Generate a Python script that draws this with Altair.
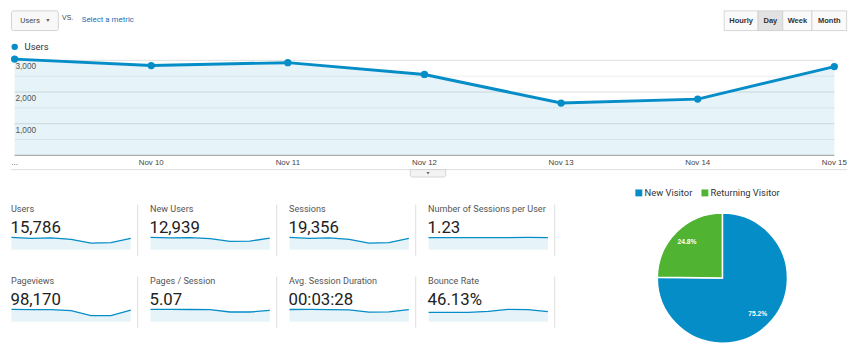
import altair as alt
import pandas as pd

# ---------------- data ----------------
dates = ["...", "Nov 10", "Nov 11", "Nov 12", "Nov 13", "Nov 14", "Nov 15"]
users_daily = [3040, 2835, 2928, 2555, 1651, 1776, 2804]
grid_major = [1000, 2000, 3000]
grid_minor = [500, 1500, 2500]
y_tick_labels = ["1,000", "2,000", "3,000"]

metric_name = "Users"
buttons = ["Hourly", "Day", "Week", "Month"]

card_titles = ["Users", "New Users", "Sessions", "Number of Sessions per User",
               "Pageviews", "Pages / Session", "Avg. Session Duration", "Bounce Rate"]
card_values = ["15,786", "12,939", "19,356", "1.23",
               "98,170", "5.07", "00:03:28", "46.13%"]
spark_users = [3040, 2835, 2928, 2555, 1651, 1776, 2804]
spark_new_users = [2097, 2013, 2055, 1887, 1426, 1468, 1993]
spark_sessions = [3344, 3119, 3221, 2811, 1816, 1954, 3091]
spark_sess_per_user = [1.23, 1.22, 1.23, 1.22, 1.23, 1.24, 1.23]
spark_pageviews = [16850, 16750, 16650, 15150, 8350, 8420, 16000]
spark_pages_session = [5.5, 5.5, 5.48, 5.4, 4.35, 4.35, 5.06]
spark_duration = [220, 221, 219, 214, 174, 176, 219]
spark_bounce = [41.8, 42.3, 42.3, 46.2, 55.0, 54.6, 44.8]
spark_series = [spark_users, spark_new_users, spark_sessions, spark_sess_per_user,
                spark_pageviews, spark_pages_session, spark_duration, spark_bounce]

visitor_types = ["New Visitor", "Returning Visitor"]
visitor_share = [75.2, 24.8]
visitor_labels = ["75.2%", "24.8%"]

BLUE = "#058dc7"
GREEN = "#50b432"
SANS = "Liberation Sans"
ROBOTO = "Roboto"

one = pd.DataFrame({"k": [0]})

# ---------------- top chart (header + main line) ----------------
W_TOP, H_TOP = 848, 172
main_df = pd.DataFrame({"date": dates, "users": users_daily})
grid_df = pd.DataFrame({"v": grid_major, "label": y_tick_labels})
minor_df = pd.DataFrame({"v": grid_minor})
zero_df = pd.DataFrame({"v": [0]})

X0, X1 = 3.7, 835
xs = alt.X("date:N", sort=dates, axis=None,
           scale=alt.Scale(type="point", range=[X0, X1], padding=0))
ys = alt.Scale(domain=[0, 3000], range=[147, 50.7], nice=False, zero=True)

minor = alt.Chart(minor_df).mark_rule(color="#eeeeee").encode(
    y=alt.Y("v:Q", scale=ys, axis=None), x=alt.value(X0), x2=alt.value(X1))
major = alt.Chart(grid_df).mark_rule(color="#e0e0e0").encode(
    y=alt.Y("v:Q", scale=ys, axis=None), x=alt.value(X0), x2=alt.value(X1))
area = alt.Chart(main_df).mark_area(color=BLUE, opacity=0.1).encode(
    x=xs, y=alt.Y("users:Q", scale=ys, axis=None))
ylab = alt.Chart(grid_df).mark_text(align="left", baseline="middle", dy=6,
                                    fontSize=8.4, font=SANS, color="#555").encode(
    y=alt.Y("v:Q", scale=ys, axis=None), x=alt.value(4.5), text="label:N")
base = alt.Chart(zero_df).mark_rule(color="#999999").encode(
    y=alt.Y("v:Q", scale=ys, axis=None), x=alt.value(X0), x2=alt.value(X1))
line = alt.Chart(main_df).mark_line(color=BLUE, strokeWidth=3).encode(
    x=xs, y=alt.Y("users:Q", scale=ys, axis=None))
pts = alt.Chart(main_df).mark_point(filled=True, size=55, color=BLUE, opacity=1).encode(
    x=xs, y=alt.Y("users:Q", scale=ys, axis=None))
xlab = alt.Chart(main_df).mark_text(fontSize=8, font=SANS, color="#444",
                                    baseline="middle").encode(
    x=xs, y=alt.value(155), text="date:N")
sep = alt.Chart(one).mark_rule(color="#dddddd").encode(
    x=alt.value(0), x2=alt.value(848), y=alt.value(161.5))
tab = alt.Chart(one).mark_rect(fill="#f3f3f3", stroke="#cccccc", strokeWidth=0.8,
                               cornerRadiusBottomLeft=2, cornerRadiusBottomRight=2).encode(
    x=alt.value(405), x2=alt.value(441), y=alt.value(161.5), y2=alt.value(169))
tab_caret = alt.Chart(one).mark_point(shape="triangle-down", filled=True, size=10,
                                      color="#666", opacity=1).encode(
    x=alt.value(423), y=alt.value(165.2))

# header: dropdown
dd_box = alt.Chart(one).mark_rect(fill="#f8f8f8", stroke="#c8c8c8", strokeWidth=0.8,
                                  cornerRadius=2).encode(
    x=alt.value(0.5), x2=alt.value(48), y=alt.value(0.5), y2=alt.value(20.5))
dd_text = alt.Chart(one).mark_text(align="left", baseline="middle", fontSize=7.8,
                                   font=ROBOTO, color="#444").encode(
    x=alt.value(9.5), y=alt.value(10.5), text=alt.value(metric_name))
dd_caret = alt.Chart(one).mark_point(shape="triangle-down", filled=True, size=12,
                                     color="#666", opacity=1).encode(
    x=alt.value(37.5), y=alt.value(10.2))
vs_text = alt.Chart(one).mark_text(align="left", baseline="middle", fontSize=7,
                                   font=SANS, color="#444").encode(
    x=alt.value(51.8), y=alt.value(8), text=alt.value("VS."))
sel_text = alt.Chart(one).mark_text(align="left", baseline="middle", fontSize=8,
                                    font=ROBOTO, color="#2a6db5").encode(
    x=alt.value(71.8), y=alt.value(10.2), text=alt.value("Select a metric"))

# header: buttons
btn_edges = [723.3, 757.7, 782.7, 812.3, 847.5]
btn_layers = []
for i, b in enumerate(buttons):
    fill = "#e2e2e2" if b == "Day" else "#fafafa"
    btn_layers.append(alt.Chart(one).mark_rect(fill=fill, stroke="#cccccc",
                                               strokeWidth=0.8).encode(
        x=alt.value(btn_edges[i]), x2=alt.value(btn_edges[i + 1]),
        y=alt.value(0.5), y2=alt.value(20.5)))
for i, b in enumerate(buttons):
    btn_layers.append(alt.Chart(one).mark_text(fontSize=7.6, font=SANS, fontWeight="bold",
                                               color="#333", baseline="middle").encode(
        x=alt.value((btn_edges[i] + btn_edges[i + 1]) / 2), y=alt.value(10.4),
        text=alt.value(b)))

# legend "Users"
lg_dot = alt.Chart(one).mark_point(filled=True, size=42, color=BLUE, opacity=1).encode(
    x=alt.value(3.8), y=alt.value(37))
lg_text = alt.Chart(one).mark_text(align="left", baseline="middle", fontSize=9.6,
                                   font=ROBOTO, color="#333").encode(
    x=alt.value(13.8), y=alt.value(37.3), text=alt.value(metric_name))

top = alt.layer(minor, major, area, ylab, base, line, pts, xlab, sep, tab, tab_caret,
                dd_box, dd_text, dd_caret, vs_text, sel_text, *btn_layers,
                lg_dot, lg_text).properties(width=W_TOP, height=H_TOP)

# ---------------- cards ----------------
CARD_W, CARD_H = 132, 72


def card(idx):
    vals = spark_series[idx]
    df = pd.DataFrame({"i": list(range(len(vals))), "v": vals})
    sx = alt.X("i:Q", axis=None, scale=alt.Scale(domain=[0, 6], range=[0.5, 121.5], nice=False))
    sy = alt.Y("v:Q", axis=None, scale=alt.Scale(domain=[0, max(vals)], range=[65.7, 53.3],
                                                  nice=False, zero=True))
    a = alt.Chart(df).mark_area(color=BLUE, opacity=0.1).encode(x=sx, y=sy)
    l = alt.Chart(df).mark_line(color=BLUE, strokeWidth=1.3).encode(x=sx, y=sy)
    t = alt.Chart(one).mark_text(align="left", baseline="middle", fontSize=9.2,
                                 font=ROBOTO, color="#555").encode(
        x=alt.value(0), y=alt.value(24.5), text=alt.value(card_titles[idx]))
    v = alt.Chart(one).mark_text(align="left", baseline="middle", fontSize=17,
                                 font=ROBOTO, color="#222").encode(
        x=alt.value(-0.5), y=alt.value(44), text=alt.value(card_values[idx]))
    s = alt.Chart(one).mark_rule(color="#dddddd").encode(
        x=alt.value(128.5), y=alt.value(20), y2=alt.value(72))
    return alt.layer(a, l, t, v, s).properties(width=CARD_W, height=CARD_H)


row1 = alt.hconcat(*[card(i) for i in range(4)], spacing=6)
row2 = alt.hconcat(*[card(i) for i in range(4, 8)], spacing=6)
cards = alt.vconcat(row1, row2, spacing=0)

# ---------------- pie ----------------
pie_df = pd.DataFrame({"type": visitor_types, "share": visitor_share,
                       "label": visitor_labels})
CX, CY = 156.5, 94.5
theta_scale = alt.Scale(domain=[0, 100])
color = alt.Color("type:N", scale=alt.Scale(domain=visitor_types, range=[BLUE, GREEN]),
                  legend=alt.Legend(orient="none", legendX=632, legendY=180,
                                    direction="horizontal", title=None,
                                    symbolType="square", symbolSize=49,
                                    symbolStrokeWidth=0, labelFontSize=9.5,
                                    labelFont=ROBOTO, labelColor="#333",
                                    columnPadding=7, labelOffset=1))
arc = alt.Chart(pie_df).mark_arc(outerRadius=66, stroke="white", strokeWidth=1.5).encode(
    theta=alt.Theta("share:Q", stack=True, scale=theta_scale), color=color,
    x=alt.value(CX), y=alt.value(CY))
arc_txt = alt.Chart(pie_df).transform_window(
    cum="sum(share)", sort=[alt.SortField("type")]
).transform_calculate(
    mid="datum.cum - datum.share / 2"
).mark_text(radius=51, fontSize=6.8, font=SANS, fontWeight="bold", color="white").encode(
    theta=alt.Theta("mid:Q", scale=theta_scale), text="label:N",
    x=alt.value(CX), y=alt.value(CY))
pie = alt.layer(arc, arc_txt).properties(width=292, height=161)

bottom = alt.hconcat(cards, pie, spacing=10)

chart = alt.vconcat(top, bottom, spacing=5).properties(
    padding=0, background="white"
).configure_view(stroke=None)

chart.save("out.html", embed_options={"renderer": "svg", "actions": False})
